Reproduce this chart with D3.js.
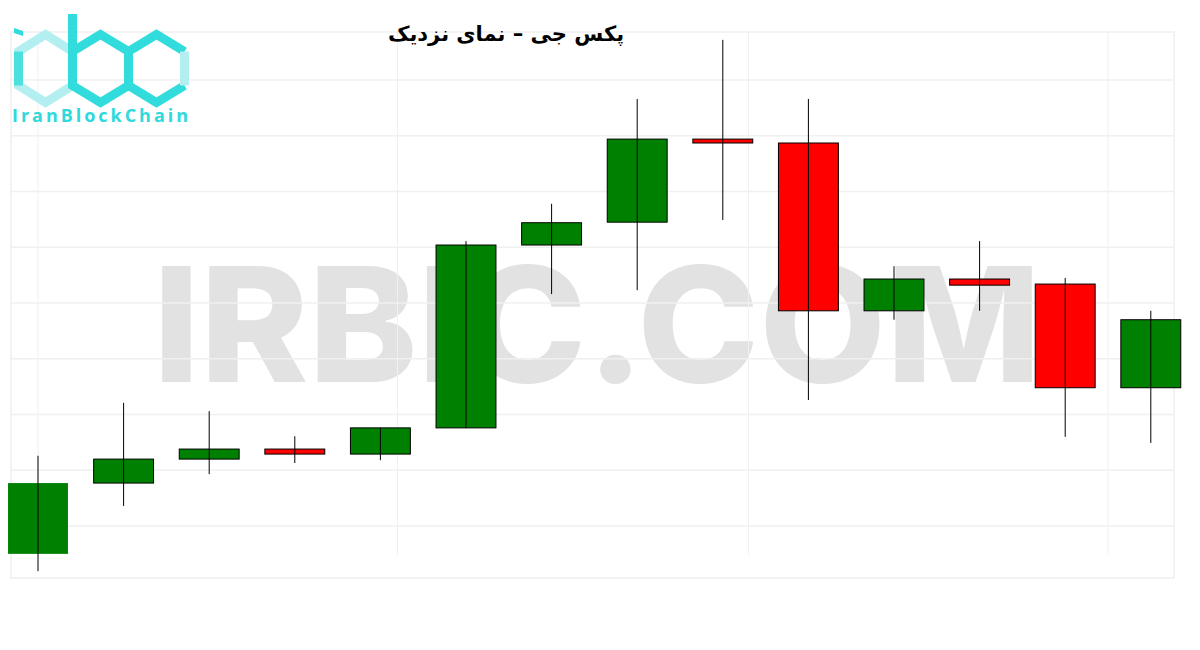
<!DOCTYPE html>
<html>
<head>
<meta charset="utf-8">
<script src="https://cdn.jsdelivr.net/npm/d3@7"></script>
<style>
  body { margin: 0; background: #fff; }
  svg { display: block; }
</style>
</head>
<body>
<script>
// اندازه صفحه
const width = 1200;
const height = 650;

// داده‌های کندل‌ها
const days = ['1', '2', '3', '4', '5', '6', '7', '8', '9', '10', '11', '12', '13', '14'];
const opens  = [5.0, 17.7, 22.0, 23.8, 22.9, 27.6, 60.4, 64.5, 79.4, 78.7, 48.6, 54.3, 53.4, 34.8];
const highs  = [22.6, 32.1, 30.6, 26.1, 27.6, 61.1, 67.8, 86.6, 97.2, 86.6, 56.6, 61.1, 54.5, 48.6];
const lows   = [1.9, 13.6, 19.3, 21.3, 21.8, 27.6, 51.6, 52.3, 64.9, 32.6, 47.0, 48.6, 26.0, 24.9];
const closes = [17.7, 22.0, 23.8, 22.9, 27.6, 60.4, 64.4, 79.4, 78.7, 48.6, 54.3, 53.2, 34.8, 47.0];

// خطوط شبکه
const gridValues = [10, 20, 30, 40, 50, 60, 70, 80, 90];
const vGridAt = [0, 4.2, 8.3, 12.5];

const title = 'پکس جی – نمای نزدیک';

const candles = days.map(function(d, i){
    return {day: d, o: opens[i], h: highs[i], l: lows[i], c: closes[i]};
});

const svg = d3.select('body').append('svg').attr('width', width).attr('height', height);

const x = d3.scaleBand()
            .domain(days)
            .range([-4.8, 1193.6])
            .paddingInner(0.3)
            .paddingOuter(0.15);

const xi = d3.scaleLinear().domain([0, 13]).range([38, 38 + 13 * x.step()]);

const y = d3.scaleLinear().domain([0, 100]).range([581.75, 24.25]);

// واترمارک
svg.append('text')
   .attr('x', 153)
   .attr('y', 382)
   .attr('textLength', 888)
   .attr('lengthAdjust', 'spacingAndGlyphs')
   .attr('font-family', 'Inter, Lato, sans-serif')
   .attr('font-weight', 800)
   .attr('font-size', '160px')
   .attr('fill', '#e2e2e2')
   .text('IRBIC.COM');

// قاب و شبکه
const grid = svg.append('g').attr('stroke', '#f0f0f0').attr('stroke-width', 1.5).attr('fill', 'none');
grid.append('rect').attr('x', 11).attr('y', 32).attr('width', 1163).attr('height', 546);
grid.selectAll('line.h')
    .data(gridValues)
    .enter()
    .append('line')
    .attr('class', 'h')
    .attr('x1', 11).attr('x2', 1174)
    .attr('y1', function(d){ return y(d); })
    .attr('y2', function(d){ return y(d); });
grid.selectAll('line.v')
    .data(vGridAt)
    .enter()
    .append('line')
    .attr('class', 'v')
    .attr('stroke-width', 1)
    .attr('y1', 32).attr('y2', 555)
    .attr('x1', function(d){ return xi(d); })
    .attr('x2', function(d){ return xi(d); });

// بدنه کندل‌ها
svg.selectAll('rect.body')
   .data(candles)
   .enter()
   .append('rect')
   .attr('class', 'body')
   .attr('x', function(d){ return x(d.day); })
   .attr('y', function(d){ return y(Math.max(d.o, d.c)); })
   .attr('width', x.bandwidth())
   .attr('height', function(d){ return Math.max(1, Math.abs(y(d.o) - y(d.c))); })
   .attr('fill', function(d){ return d.c >= d.o ? '#008000' : '#ff0000'; })
   .attr('stroke', function(d, i){ return i === 0 ? 'none' : '#000'; })
   .attr('stroke-width', 1);

// سایه‌ها
svg.selectAll('line.wick')
   .data(candles)
   .enter()
   .append('line')
   .attr('class', 'wick')
   .attr('x1', function(d){ return x(d.day) + x.bandwidth() / 2; })
   .attr('x2', function(d){ return x(d.day) + x.bandwidth() / 2; })
   .attr('y1', function(d){ return y(d.h); })
   .attr('y2', function(d){ return y(d.l); })
   .attr('stroke', '#000')
   .attr('stroke-width', 1);

// عنوان
svg.append('text')
   .attr('x', 506)
   .attr('y', 41)
   .attr('text-anchor', 'middle')
   .attr('direction', 'rtl')
   .attr('font-family', '"DejaVu Sans", sans-serif')
   .attr('font-weight', 'bold')
   .attr('font-size', '21px')
   .attr('fill', '#000')
   .text(title);

// لوگو
const dark = '#33dcdc';
const light = '#b3eff1';
function hex(cx, cy, rx, ry){
    return [[cx, cy - ry], [cx + rx, cy - ry / 2], [cx + rx, cy + ry / 2],
            [cx, cy + ry], [cx - rx, cy + ry / 2], [cx - rx, cy - ry / 2]];
}
const logo = svg.append('g').attr('fill', 'none').attr('stroke-width', 9).attr('stroke-linejoin', 'miter');
const line = d3.line();
const h1 = hex(45.5, 68.5, 27, 34);
const h2 = hex(100.5, 68.5, 28, 34);
const h3 = hex(156.5, 68.5, 28, 34);
logo.append('path').attr('d', line(h1) + 'Z').attr('stroke', light);
logo.append('path').attr('d', line([h1[4], h1[5]])).attr('stroke', dark).attr('opacity', 0.8);
logo.append('path').attr('d', line(h2) + 'Z').attr('stroke', dark);
logo.append('path').attr('d', line([h3[2], h3[3], h3[4], h3[5], h3[0], h3[1]])).attr('stroke', dark);
logo.append('path').attr('d', line([h3[1], h3[2]])).attr('stroke', light);
logo.append('path').attr('d', line([[72.5, 14], [72.5, 86]])).attr('stroke', dark);
logo.append('path').attr('d', 'M14,28 L23,31 L23,36 L14,33 Z').attr('fill', dark).attr('stroke', 'none');
svg.append('text')
   .attr('x', 12)
   .attr('y', 122)
   .attr('textLength', 176)
   .attr('lengthAdjust', 'spacing')
   .attr('font-family', '"Open Sans", sans-serif')
   .attr('font-weight', 'bold')
   .attr('font-size', '18px')
   .attr('fill', '#2fd9dc')
   .text('IranBlockChain');
</script>
</body>
</html>
